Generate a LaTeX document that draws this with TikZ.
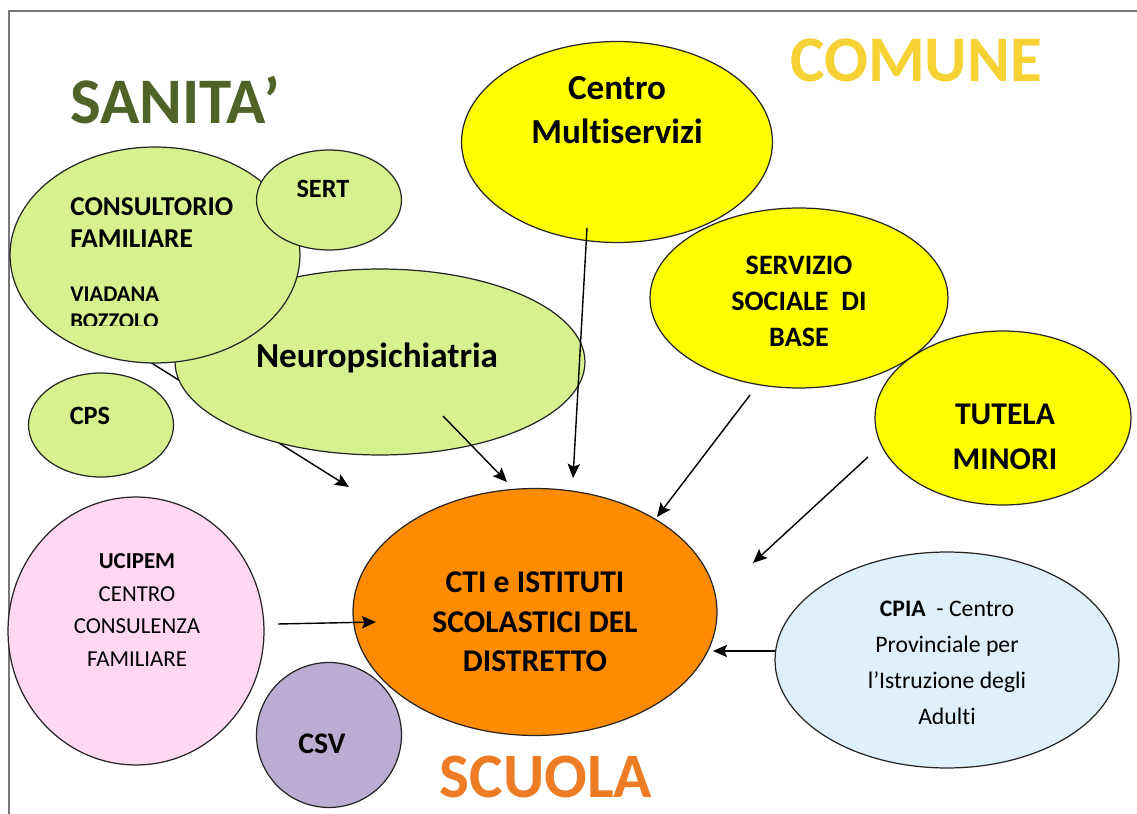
\documentclass[tikz,border=0pt]{standalone}
\usepackage{fontspec}
\setmainfont{Carlito}[Ligatures=NoCommon]
\usetikzlibrary{shapes.geometric,arrows.meta}

\definecolor{sanitagreen}{RGB}{79,98,40}
\definecolor{lime}{RGB}{215,241,142}
\definecolor{comunegold}{RGB}{246,210,52}
\definecolor{scuolaorange}{RGB}{238,124,36}
\definecolor{ctiorange}{RGB}{255,140,0}
\definecolor{pinkfill}{RGB}{255,215,240}
\definecolor{lavender}{RGB}{186,172,210}
\definecolor{paleblue}{RGB}{222,240,252}
\definecolor{sunyellow}{RGB}{255,255,0}
\definecolor{framegray}{RGB}{120,120,120}

\tikzset{
  bubble/.style={ellipse, draw=black!85, line width=0.7pt, inner sep=0pt},
  lbl/.style={align=center, inner sep=0pt, font=\bfseries},
  title/.style={inner sep=0pt, font=\bfseries\fontsize{37}{40}\selectfont},
  link/.style={-{Stealth[length=8pt,width=7pt,inset=1.5pt]}, line width=0.8pt},
}

\begin{document}
\begin{tikzpicture}[x=0.02cm, y=-0.02cm]
      \useasboundingbox [fill=white] (0,0) rectangle (1137,814);
      \draw [framegray, line width=1.1pt] (9,814) -- (9,11) -- (1137,11);

      \coordinate (cons-out) at (150,362);
      \coordinate (cons-in)  at (349,487);
      \draw [link] (cons-out) -- (cons-in);

      \node (neuro)  [bubble, fill=lime, minimum width=8.2cm, minimum height=3.72cm] at (380,362) {};
      \node (cons)   [bubble, fill=lime, minimum width=5.8cm, minimum height=4.32cm] at (155,255) {};
      \node (sert)   [bubble, fill=lime, minimum width=2.9cm, minimum height=2.0cm] at (329,200) {};
      \node (cps)    [bubble, fill=lime, minimum width=2.9cm, minimum height=2.08cm] at (101,425) {};
      \node (centro) [bubble, fill=sunyellow, minimum width=6.22cm, minimum height=4.02cm] at (617,142) {};
      \node (serv)   [bubble, fill=sunyellow, minimum width=5.96cm, minimum height=3.6cm] at (799,298) {};
      \node (tutela) [bubble, fill=sunyellow, minimum width=5.12cm, minimum height=3.48cm] at (1003,418) {};
      \node (cti)    [bubble, fill=ctiorange, minimum width=7.28cm, minimum height=4.94cm] at (535,612) {};
      \node (ucipem) [bubble, fill=pinkfill, minimum width=5.12cm, minimum height=5.36cm] at (136,631) {};
      \node (csv)    [bubble, fill=lavender, minimum width=2.9cm, minimum height=2.9cm] at (329,735) {};
      \node (cpia)   [bubble, fill=paleblue, minimum width=6.88cm, minimum height=4.32cm] at (947,660) {};

      \node (sanita) [title, text=sanitagreen]  at (175,100) {SANITA’};
      \node (comune) [title, text=comunegold]   at (916,60)  {COMUNE};
      \node (scuola) [title, text=scuolaorange, font=\bfseries\fontsize{36}{40}\selectfont] at (546,777) {SCUOLA};

      \node (cons-t1) [lbl, anchor=west, font=\bfseries\fontsize{15.5}{18}\selectfont] at (70,207) {CONSULTORIO};
      \node (cons-t2) [lbl, anchor=west, font=\bfseries\fontsize{15.5}{18}\selectfont] at (70,239) {FAMILIARE};
      \begin{scope}
        \clip (60,270) rectangle (250,326);
        \node (cons-t3) [lbl, anchor=west, font=\bfseries\fontsize{12.8}{15}\selectfont] at (70,294) {VIADANA};
        \node (cons-t4) [lbl, anchor=west, font=\bfseries\fontsize{12.8}{15}\selectfont] at (70,321) {BOZZOLO};
      \end{scope}
      \node (sert-t)   [lbl, font=\bfseries\fontsize{15}{18}\selectfont] at (323,189) {SERT};
      \node (cps-t)    [lbl, font=\bfseries\fontsize{15}{18}\selectfont] at (90,416) {CPS};
      \node (neuro-t)  [lbl, font=\bfseries\fontsize{20}{24}\selectfont] at (377,358) {Neuropsichiatria};
      \node (centro-t) [lbl, font=\bfseries\fontsize{20}{25}\selectfont] at (617,110) {Centro\\Multiservizi};
      \node (serv-t)   [lbl, font=\bfseries\fontsize{16}{20.5}\selectfont] at (799,301) {SERVIZIO\\SOCIALE~~DI\\BASE};
      \node (tutela-t) [lbl, font=\bfseries\fontsize{18}{25.5}\selectfont] at (1005,437) {TUTELA\\MINORI};
      \node (cti-t)    [lbl, font=\bfseries\fontsize{18}{22.5}\selectfont] at (535,622) {CTI e ISTITUTI\\SCOLASTICI DEL\\DISTRETTO};
      \node (ucipem-t) [lbl, font=\fontsize{13}{18.7}\selectfont] at (137,610) {\textbf{UCIPEM}\\CENTRO\\CONSULENZA\\FAMILIARE};
      \node (csv-t)    [lbl, font=\bfseries\fontsize{17}{20}\selectfont] at (322,744) {CSV};
      \node (cpia-t)   [lbl, font=\fontsize{13.5}{20.5}\selectfont] at (947,663) {\textbf{CPIA}~~- Centro\\Provinciale per\\l’Istruzione degli\\Adulti};

      \coordinate (neuro-out)  at (443,416);
      \coordinate (neuro-in)   at (507,482);
      \coordinate (centro-out) at (587,228);
      \coordinate (centro-in)  at (573,478);
      \coordinate (serv-out)   at (750,395);
      \coordinate (serv-in)    at (657,517);
      \coordinate (tutela-out) at (868,457);
      \coordinate (tutela-in)  at (753,563);
      \coordinate (cpia-out)   at (775,651);
      \coordinate (cpia-in)    at (713,651);
      \coordinate (ucipem-out) at (278,624);
      \coordinate (ucipem-in)  at (376,622);
      \draw [link] (neuro-out) -- (neuro-in);
      \draw [link] (centro-out) -- (centro-in);
      \draw [link] (serv-out) -- (serv-in);
      \draw [link] (tutela-out) -- (tutela-in);
      \draw [link] (cpia-out) -- (cpia-in);
      \draw [link] (ucipem-out) -- (ucipem-in);
\end{tikzpicture}
\end{document}
